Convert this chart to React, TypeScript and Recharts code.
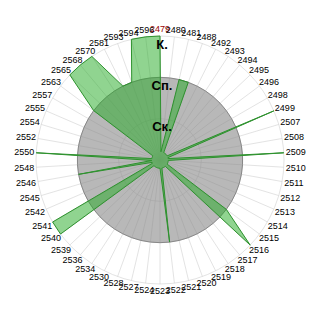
import React from "react";
import { RadarChart, Radar, PolarGrid, PolarAngleAxis, PolarRadiusAxis } from "recharts";

const categories = [
  "2479", "2480", "2481", "2488", "2492", "2493", "2494", "2495", "2496", "2498",
  "2499", "2507", "2508", "2509", "2510", "2511", "2512", "2513", "2514", "2515",
  "2516", "2517", "2518", "2519", "2520", "2521", "2522", "2523", "2524", "2527",
  "2528", "2530", "2534", "2536", "2539", "2540", "2541", "2542", "2545", "2546",
  "2548", "2550", "2552", "2554", "2555", "2557", "2563", "2565", "2568", "2570",
  "2581", "2593", "2594", "2596",
];

const baseValues = [
  2, 2, 2, 2, 2, 2, 2, 2, 2, 2,
  2, 2, 2, 2, 2, 2, 2, 2, 2, 2,
  2, 2, 2, 2, 2, 2, 2, 2, 2, 2,
  2, 2, 2, 2, 2, 2, 2, 2, 2, 2,
  2, 2, 2, 2, 2, 2, 2, 2, 2, 2,
  2, 2, 2, 2,
];

const levelValues = [
  3, 0.2, 2, 2, 0.2, 0.2, 0.2, 0.2, 0.2, 0.2,
  3, 0.2, 0.2, 3, 0.2, 0.2, 0.2, 0.2, 0.2, 2,
  3, 0.2, 0.2, 0.2, 0.2, 0.2, 2, 0.2, 0.2, 0.2,
  0.2, 0.2, 0.2, 0.2, 0.2, 3, 3, 0.2, 0.2, 2,
  0.2, 3, 0.2, 0.2, 0.2, 0.2, 2, 3, 3, 3,
  2, 2, 3, 3,
];

const radiusTicks = [1, 2, 3];
const radiusLabels = ["Ск.", "Сп.", "К."];
const highlighted = "2479";

const data = categories.map((name, i) => ({
  name,
  base: baseValues[i],
  level: levelValues[i],
}));

const AngleTick = (props: any) => {
  const { x, y, cx, cy, payload } = props;
  const dx = x - cx;
  const dy = y - cy;
  const len = Math.sqrt(dx * dx + dy * dy) || 1;
  const s = dx / len;
  const c = -dy / len;
  const w = 20;
  const h = 10;
  const tx = x + (s * w) / 2;
  const ty = y - (c * h) / 2;
  return (
    <text
      x={tx}
      y={ty}
      textAnchor="middle"
      dominantBaseline="central"
      fontSize={9}
      fontFamily="Liberation Sans, Arial, sans-serif"
      fill={payload.value === highlighted ? "#990000" : "#000"}
    >
      {payload.value}
    </text>
  );
};

const RadiusTick = (props: any) => {
  const { x, y, payload } = props;
  const idx = radiusTicks.indexOf(payload.value);
  if (idx < 0) return null;
  return (
    <text
      x={x + 2}
      y={y + 8}
      textAnchor="middle"
      dominantBaseline="central"
      fontSize={13}
      fontWeight="bold"
      fontFamily="Liberation Sans, Arial, sans-serif"
      fill="#000"
    >
      {radiusLabels[idx]}
    </text>
  );
};

export default function App() {
  return (
    <div style={{ position: "absolute", left: 0, top: 0 }}>
      <RadarChart
        width={320}
        height={320}
        data={data}
        cx={160}
        cy={160}
        outerRadius={124}
        margin={{ top: 0, right: 0, bottom: 0, left: 0 }}
      >
        <Radar
          dataKey="base"
          stroke="#888888"
          strokeWidth={1}
          fill="#888888"
          fillOpacity={0.6}
          isAnimationActive={false}
          dot={false}
        />
        <Radar
          dataKey="level"
          stroke="#2e922e"
          strokeWidth={1}
          fill="#22aa22"
          fillOpacity={0.5}
          isAnimationActive={false}
          dot={false}
        />
        <PolarGrid gridType="circle" stroke="#d0d0d0" strokeOpacity={0.6} />
        <PolarAngleAxis
          dataKey="name"
          tick={<AngleTick />}
          tickSize={2}
          axisLine={false}
          tickLine={false}
        />
        <PolarRadiusAxis
          angle={90}
          domain={[0, 3]}
          ticks={[0, 1, 2, 3] as any}
          tick={<RadiusTick />}
          axisLine={false}
          tickLine={false}
        />
      </RadarChart>
    </div>
  );
}
